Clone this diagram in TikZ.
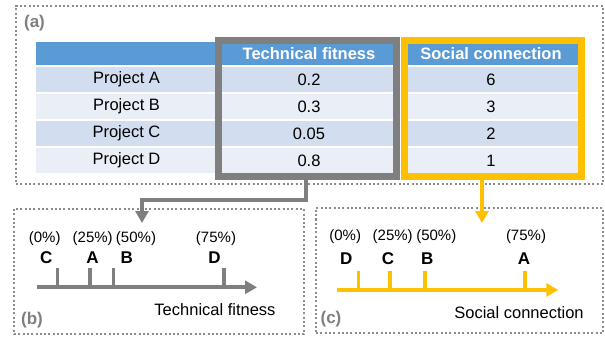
\documentclass[tikz,border=0pt]{standalone}
\usepackage{fontspec}
\setmainfont{Liberation Sans}
\usetikzlibrary{arrows.meta}
\definecolor{hdrblue}{HTML}{5B9BD5}
\definecolor{banddark}{HTML}{D2DEEF}
\definecolor{bandlight}{HTML}{EAEFF7}
\definecolor{framegray}{HTML}{7F7F7F}
\definecolor{gold}{HTML}{FFC000}
\definecolor{dotgray}{HTML}{8C8C8C}
\begin{document}
\begin{tikzpicture}[x=1pt,y=-1pt,
  cell/.style={inner sep=0pt, minimum height=27pt, draw=white, line width=1.5pt,
    font=\fontsize{16.5}{18}\selectfont},
  c1/.style={cell, minimum width=183pt},
  c2/.style={cell, minimum width=182pt},
  c3/.style={cell, minimum width=182pt},
  hdr/.style={fill=hdrblue, text=white, minimum height=25pt,
    font=\bfseries\fontsize{16.5}{18}\selectfont},
  dark/.style={fill=banddark},
  light/.style={fill=bandlight},
  panelbox/.style={draw=dotgray, line width=2pt, dash pattern=on 2pt off 2.3pt, inner sep=0pt},
  colframe/.style={line width=6.8pt, inner sep=0pt, minimum height=136.2pt},
  tag/.style={text=framegray, inner sep=0pt, font=\bfseries\fontsize{17}{18}\selectfont},
  letter/.style={inner sep=0pt, font=\bfseries\fontsize{17}{18}\selectfont},
  pct/.style={inner sep=0pt, font=\fontsize{15}{16}\selectfont},
  axislabel/.style={inner sep=0pt, font=\fontsize{16.5}{18}\selectfont},
  conn/.style={line width=4pt, -{Triangle[length=12pt,width=13pt]}},
  axisline/.style={line width=4pt, -{Triangle[length=12pt,width=13pt]}},
  tick/.style={line width=3.6pt}
]
\useasboundingbox (0,0) rectangle (605,337);

% dotted panel outlines
\node[panelbox, minimum width=587pt, minimum height=178pt] (pa) at (309.5,95) {};
\node[panelbox, minimum width=290pt, minimum height=125pt] (pb) at (159,271.5) {};
\node[panelbox, minimum width=287pt, minimum height=125pt] (pc) at (459.5,270.5) {};

\node[tag] (ta) at (34.5,23) {(a)};
\node[tag] (tb) at (32,320) {(b)};
\node[tag] (tc) at (331,319) {(c)};

% table: header row
\node[c1, hdr] (h1) at (126.5,53.5) {};
\node[c2, hdr] (h2) at (309,53.5) {Technical fitness};
\node[c3, hdr] (h3) at (491,53.5) {Social connection};
% body rows
\node[c1, dark]  (a1) at (126.5,79.5)  {Project A};
\node[c2, dark]  (a2) at (309,79.5)    {0.2};
\node[c3, dark]  (a3) at (491,79.5)    {6};
\node[c1, light] (b1) at (126.5,106.5) {Project B};
\node[c2, light] (b2) at (309,106.5)   {0.3};
\node[c3, light] (b3) at (491,106.5)   {3};
\node[c1, dark]  (r1) at (126.5,133.5) {Project C};
\node[c2, dark]  (r2) at (309,133.5)   {0.05};
\node[c3, dark]  (r3) at (491,133.5)   {2};
\node[c1, light] (d1) at (126.5,160.5) {Project D};
\node[c2, light] (d2) at (309,160.5)   {0.8};
\node[c3, light] (d3) at (491,160.5)   {1};

% highlighted columns
\node[colframe, draw=framegray, minimum width=178.2pt] (tf) at (307.5,108.5) {};
\node[colframe, draw=gold, minimum width=177.2pt] (sc) at (493,108.5) {};

% connectors to the rankings
\coordinate (gbend) at (306,200);
\coordinate (btip) at (142,223);
\coordinate (ctip) at (482,223);
\draw[conn, framegray] (tf.south -| gbend) -- (gbend) -| (btip);
\draw[conn, gold] (sc.south -| ctip) -- (ctip);

% (b) ranking by technical fitness
\coordinate (bs) at (36.7,287.3);
\coordinate (be) at (257,287.3);
\draw[axisline, framegray] (bs) -- (be);
\foreach \x/\n in {57.3/C, 90/A, 113.3/B, 224/D}
  \draw[tick, framegray] (\x,268.3) -- (\x,287.3);
\node[pct] (bp0) at (44.7,238.3) {(0\%)};
\node[pct] (bp1) at (92.7,238.3) {(25\%)};
\node[pct] (bp2) at (136,238.3) {(50\%)};
\node[pct] (bp3) at (216,238.3) {(75\%)};
\node[letter] (bC) at (46.3,257.3) {C};
\node[letter] (bA) at (92.5,257.3) {A};
\node[letter] (bB) at (126.7,257.3) {B};
\node[letter] (bD) at (214.5,257.3) {D};
\node[axislabel] (bl) at (215,310) {Technical fitness};

% (c) ranking by social connection
\coordinate (cs) at (336.7,290);
\coordinate (ce) at (558.3,290);
\draw[axisline, gold] (cs) -- (ce);
\foreach \x in {358.3, 390, 425, 525}
  \draw[tick, gold] (\x,270.7) -- (\x,290);
\node[pct] (cp0) at (345.2,237) {(0\%)};
\node[pct] (cp1) at (392.7,237) {(25\%)};
\node[pct] (cp2) at (436.3,237) {(50\%)};
\node[pct] (cp3) at (526,237) {(75\%)};
\node[letter] (cD) at (346.2,258.8) {D};
\node[letter] (cC) at (388,258.8) {C};
\node[letter] (cB) at (427.3,258.8) {B};
\node[letter] (cA) at (524,258.8) {A};
\node[axislabel] (cl) at (519,312.5) {Social connection};
\end{tikzpicture}
\end{document}
